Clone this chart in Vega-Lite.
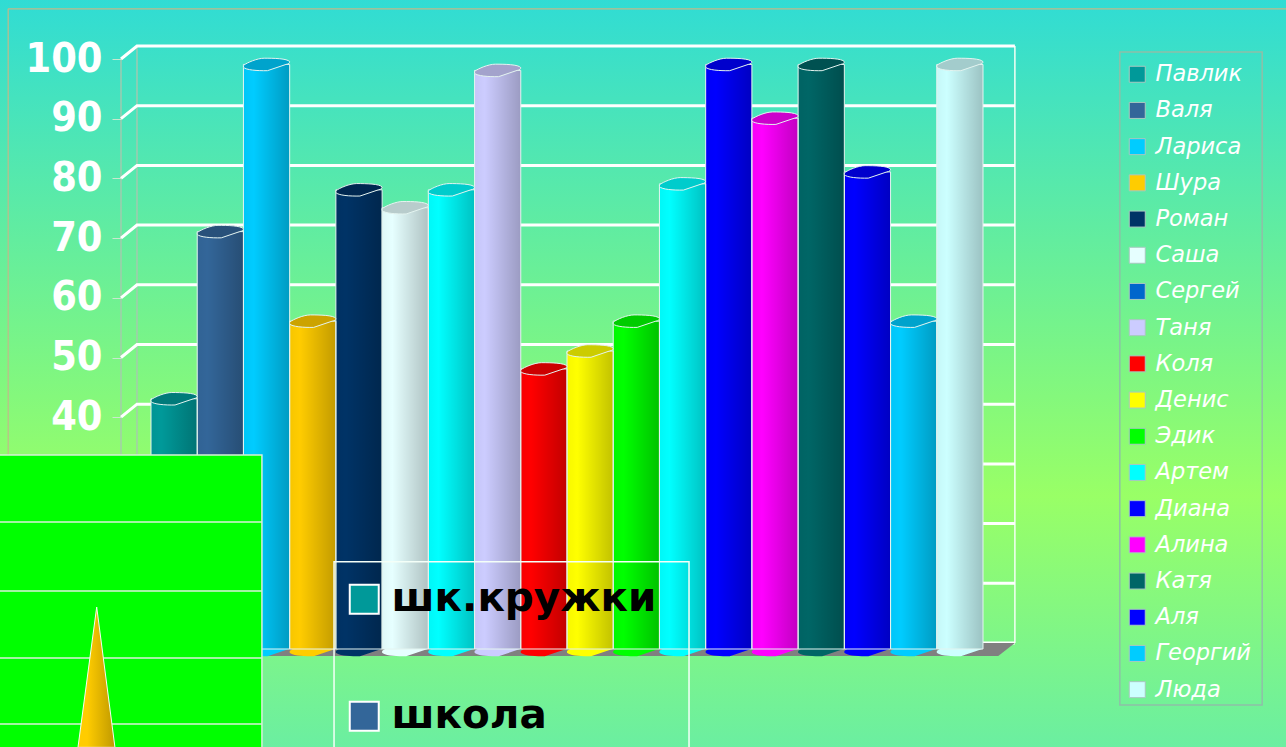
{
"$schema":"https://vega.github.io/schema/vega-lite/v6.json",
"width":1286,"height":747,"padding":0,"autosize":{"type":"none"},
"config":{"view":{"stroke":null}},
"datasets":{
"bars":[{"name":"Павлик","value":42},{"name":"Валя","value":70},{"name":"Лариса","value":98},{"name":"Шура","value":55},{"name":"Роман","value":77},{"name":"Саша","value":74},{"name":"Сергей","value":77},{"name":"Таня","value":97},{"name":"Коля","value":47},{"name":"Денис","value":50},{"name":"Эдик","value":55},{"name":"Артем","value":78},{"name":"Диана","value":98},{"name":"Алина","value":89},{"name":"Катя","value":98},{"name":"Аля","value":80},{"name":"Георгий","value":55},{"name":"Люда","value":98}],
"series":[{"series":"шк.кружки"},{"series":"школа"}],
"grid":[
{"level":0,"slot":-0.649,"v":0},{"level":0,"slot":-0.303,"v":2.18},{"level":0,"slot":18.69,"v":2.18},
{"level":10,"slot":-0.649,"v":10},{"level":10,"slot":-0.303,"v":12.18},{"level":10,"slot":18.69,"v":12.18},
{"level":20,"slot":-0.649,"v":20},{"level":20,"slot":-0.303,"v":22.18},{"level":20,"slot":18.69,"v":22.18},
{"level":30,"slot":-0.649,"v":30},{"level":30,"slot":-0.303,"v":32.18},{"level":30,"slot":18.69,"v":32.18},
{"level":40,"slot":-0.649,"v":40},{"level":40,"slot":-0.303,"v":42.18},{"level":40,"slot":18.69,"v":42.18},
{"level":50,"slot":-0.649,"v":50},{"level":50,"slot":-0.303,"v":52.18},{"level":50,"slot":18.69,"v":52.18},
{"level":60,"slot":-0.649,"v":60},{"level":60,"slot":-0.303,"v":62.18},{"level":60,"slot":18.69,"v":62.18},
{"level":70,"slot":-0.649,"v":70},{"level":70,"slot":-0.303,"v":72.18},{"level":70,"slot":18.69,"v":72.18},
{"level":80,"slot":-0.649,"v":80},{"level":80,"slot":-0.303,"v":82.18},{"level":80,"slot":18.69,"v":82.18},
{"level":90,"slot":-0.649,"v":90},{"level":90,"slot":-0.303,"v":92.18},{"level":90,"slot":18.69,"v":92.18},
{"level":100,"slot":-0.649,"v":100},{"level":100,"slot":-0.303,"v":102.18},{"level":100,"slot":18.69,"v":102.18}],
"walls":[
{"kind":"frame","a":-3.09,"b":-3.09,"v":-15,"w":108.4},
{"kind":"frame","a":-3.09,"b":24.6,"v":108.4,"w":108.4},
{"kind":"back","a":-0.303,"b":-0.303,"v":2.18,"w":102.18},
{"kind":"back","a":-0.649,"b":-0.649,"v":0,"w":100},
{"kind":"side","a":18.69,"b":18.69,"v":2.18,"w":102.18}],
"floor":[{"v":0,"a":-0.649,"b":18.33},{"v":2.18,"a":-0.303,"b":18.69}],
"sky":[{"a":-3.4,"b":24.7,"v":110,"w":-16}],
"inset":[{"a":-3.4,"b":2.4,"v":33.67,"w":-16}],
"insetLines":[{"a":-3.4,"b":2.4,"v":22.45},{"a":-3.4,"b":2.4,"v":10.9},{"a":-3.4,"b":2.4,"v":-0.33},{"a":-3.4,"b":2.4,"v":-11.4}],
"cone":[{"v":8.2,"a":-1.175,"b":-1.175},{"v":-15.3,"a":-1.58,"b":-0.78}],
"box":[{"a":3.96,"b":11.64,"v":15.8,"w":-16}],
"sidebox":[{"a":20.96,"b":24.04,"v":101.17,"w":-8.2}]
},
"layer":[
{"encoding":{"x":{"field":"slot","type":"quantitative","axis":null,"scale":{"domain":[0,18],"range":[151,983],"nice":false,"zero":false}}},
 "layer":[
 {"data":{"name":"sky"},"mark":{"type":"rect","fill":{"gradient":"linear","x1":0,"y1":0,"x2":0,"y2":1,"stops":[{"offset":0,"color":"#30DCD4"},{"offset":0.66,"color":"#99FF66"},{"offset":1,"color":"#6AEEA2"}]}},
  "encoding":{"x":{"field":"a","type":"quantitative","axis":null},"x2":{"field":"b"},
   "y":{"field":"v","type":"quantitative","axis":{"offset":-121,"zindex":1,"title":null,"values":[40,50,60,70,80,90,100],"grid":false,"domain":false,"tickSize":9,"tickColor":"#C9E8CF","tickWidth":1,"labelPadding":10,"labelColor":"#FFFFFF","labelFont":"DejaVu Sans Condensed","labelFontWeight":"bold","labelFontSize":41},"scale":{"domain":[0,100],"range":[656,59],"nice":false,"zero":false}},
   "y2":{"field":"w"}}},
 {"data":{"name":"walls"},"mark":{"type":"rule"},
  "encoding":{"x":{"field":"a","type":"quantitative","axis":null},"x2":{"field":"b"},
   "y":{"field":"v","type":"quantitative"},"y2":{"field":"w"},
   "color":{"field":"kind","type":"nominal","legend":null,"scale":{"domain":["frame","back","side"],"range":["#C2B98A","#A8C8B0","#F4FFF4"]}},
   "strokeWidth":{"field":"kind","type":"nominal","legend":null,"scale":{"domain":["frame","back","side"],"range":[1.2,1.5,2]}}}},
 {"data":{"name":"grid"},"mark":{"type":"line","color":"#FFFFFF","strokeWidth":3,"strokeJoin":"miter"},
  "encoding":{"y":{"field":"v","type":"quantitative"},"detail":{"field":"level","type":"nominal"}}},
 {"data":{"name":"floor"},"mark":{"type":"area","orient":"horizontal","color":"#808080"},
  "encoding":{"x":{"field":"a","type":"quantitative","axis":null},"x2":{"field":"b"},"y":{"field":"v","type":"quantitative"}}}
 ]},
{"data":{"name":"series"},"mark":{"type":"point","filled":true,"size":1,"opacity":1},
 "encoding":{"color":{"field":"series","type":"nominal","scale":{"domain":["шк.кружки","школа"],"range":["#009999","#336699"]},
  "legend":{"orient":"none","legendX":330,"legendY":565,"title":null,"padding":14,"symbolType":"square","symbolSize":840,"symbolStrokeColor":"#FFFFFF","symbolStrokeWidth":2,"symbolOpacity":1,"labelFont":"DejaVu Sans","labelFontWeight":"bold","labelFontSize":40.5,"labelColor":"#000000","labelOffset":7,"labelLimit":400,"rowPadding":76}}}},
{"data":{"name":"bars"},"mark":{"type":"point","filled":true,"size":1,"opacity":1},
 "encoding":{"color":{"field":"name","type":"nominal","scale":{"domain":["Павлик","Валя","Лариса","Шура","Роман","Саша","Сергей","Таня","Коля","Денис","Эдик","Артем","Диана","Алина","Катя","Аля","Георгий","Люда"],"range":["#009999","#336699","#00CCFF","#FFCC00","#003366","#E6FFFF","#0066CC","#CCCCFF","#FF0000","#FFFF00","#00FF00","#00FFFF","#0000FF","#FF00FF","#006666","#0000FF","#00CCFF","#CCFFFF"]},
   "legend":{"orient":"none","legendX":1116,"legendY":53,"title":null,"padding":10,"symbolType":"square","symbolSize":256,"symbolStrokeColor":"#A8C8C0","symbolStrokeWidth":1,"symbolOpacity":1,"labelFont":"DejaVu Sans","labelFontStyle":"italic","labelFontSize":22.5,"labelColor":"#FFFFFF","labelOffset":7,"rowPadding":13.2}}}},
{"data":{"name":"bars"},
 "encoding":{"x":{"field":"name","type":"nominal","axis":null,"sort":null,"scale":{"type":"band","domain":["Павлик","Валя","Лариса","Шура","Роман","Саша","Сергей","Таня","Коля","Денис","Эдик","Артем","Диана","Алина","Катя","Аля","Георгий","Люда"],"range":[151,983],"paddingInner":0,"paddingOuter":0}}},
 "layer":[
 {"mark":{"type":"point","filled":true,"opacity":1,"yOffset":-6,"size":2134,"shape":"M-1,0.04 C-0.84,-0.08 -0.4,-0.27 -0.1,-0.27 C0.3,-0.27 0.9,-0.26 1,-0.12 C1,-0.06 0.96,-0.02 0.84,0 L0.04,0.27 C-0.4,0.28 -0.9,0.24 -1,0.12 Z"},
  "encoding":{"y":{"datum":0,"type":"quantitative"},"color":{"field":"name","type":"nominal","legend":null,"scale":{"domain":["Павлик","Валя","Лариса","Шура","Роман","Саша","Сергей","Таня","Коля","Денис","Эдик","Артем","Диана","Алина","Катя","Аля","Георгий","Люда"],"range":["#009999","#336699","#00CCFF","#FFCC00","#003366","#E6FFFF","#00FFFF","#CCCCFF","#FF0000","#FFFF00","#00FF00","#00FFFF","#0000FF","#FF00FF","#006666","#0000FF","#00CCFF","#CCFFFF"]}}}},
 {"mark":{"type":"bar","yOffset":-6.5,"y2Offset":-7},
  "encoding":{"y":{"field":"value","type":"quantitative","stack":null},"y2":{"datum":0},"color":{"field":"name","type":"nominal","legend":null}}},
 {"mark":{"type":"bar","yOffset":-6.5,"y2Offset":-7,"stroke":"#E4F4F0","strokeWidth":1,"fill":{"gradient":"linear","x1":0,"y1":0,"x2":1,"y2":0,"stops":[{"offset":0,"color":"rgba(0,0,0,0.03)"},{"offset":0.22,"color":"rgba(0,0,0,0)"},{"offset":1,"color":"rgba(0,0,0,0.24)"}]}},
  "encoding":{"y":{"field":"value","type":"quantitative","stack":null},"y2":{"datum":0}}},
 {"mark":{"type":"point","filled":true,"opacity":1,"yOffset":-6.5,"size":2134,"shape":"M-1,0.04 C-0.84,-0.08 -0.4,-0.27 -0.1,-0.27 C0.3,-0.27 0.9,-0.26 1,-0.12 C1,-0.06 0.96,-0.02 0.84,0 L0.04,0.27 C-0.4,0.28 -0.9,0.24 -1,0.12 Z"},
  "encoding":{"y":{"field":"value","type":"quantitative"},"color":{"field":"name","type":"nominal","legend":null}}},
 {"mark":{"type":"point","filled":true,"opacity":1,"yOffset":-6.5,"size":2134,"fill":"rgba(0,0,0,0.2)","stroke":"#E4F4F0","strokeWidth":1,"shape":"M-1,0.04 C-0.84,-0.08 -0.4,-0.27 -0.1,-0.27 C0.3,-0.27 0.9,-0.26 1,-0.12 C1,-0.06 0.96,-0.02 0.84,0 L0.04,0.27 C-0.4,0.28 -0.9,0.24 -1,0.12 Z"},
  "encoding":{"y":{"field":"value","type":"quantitative"}}}
 ]
},
{"encoding":{"x":{"field":"a","type":"quantitative","axis":null,"scale":{"domain":[0,18],"range":[151,983],"nice":false,"zero":false}}},
 "layer":[
 {"data":{"name":"sidebox"},"mark":{"type":"rect","fillOpacity":0,"stroke":"#8FBFA8","strokeWidth":1.5},
  "encoding":{"x2":{"field":"b"},"y":{"field":"v","type":"quantitative"},"y2":{"field":"w"}}},
 {"data":{"name":"box"},"mark":{"type":"rect","fillOpacity":0,"stroke":"#F4FFF8","strokeWidth":1.5},
  "encoding":{"x2":{"field":"b"},"y":{"field":"v","type":"quantitative"},"y2":{"field":"w"}}},
 {"data":{"name":"inset"},"mark":{"type":"rect","fill":"#00FF00","stroke":"#D8F0D8","strokeWidth":1.5},
  "encoding":{"x2":{"field":"b"},"y":{"field":"v","type":"quantitative"},"y2":{"field":"w"}}},
 {"data":{"name":"insetLines"},"mark":{"type":"rule","color":"#D8F0D8","strokeWidth":1.5},
  "encoding":{"x2":{"field":"b"},"y":{"field":"v","type":"quantitative"}}},
 {"data":{"name":"cone"},"mark":{"type":"area","orient":"horizontal","stroke":"#F4FFF4","strokeWidth":1,"fill":{"gradient":"linear","x1":0,"y1":0,"x2":1,"y2":0,"stops":[{"offset":0,"color":"#FFCC00"},{"offset":0.25,"color":"#FFCC00"},{"offset":1,"color":"#BF9900"}]}},
  "encoding":{"x2":{"field":"b"},"y":{"field":"v","type":"quantitative"}}}
 ]}
],
"resolve":{"scale":{"x":"independent","color":"independent"}}
}
